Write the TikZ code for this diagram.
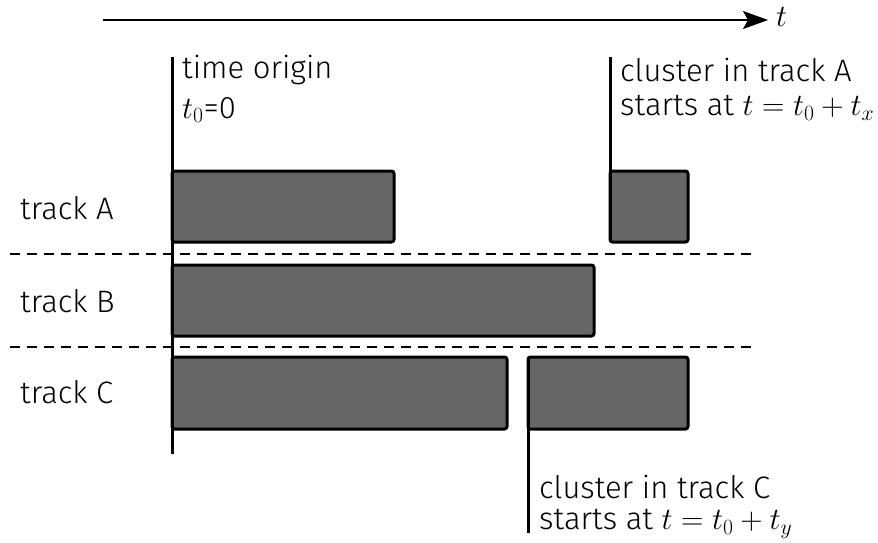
\RequirePackage{fix-cm}
\documentclass[tikz,border=0pt]{standalone}
\usepackage{fontspec}
\setmainfont{Fira Sans}[UprightFont=* Light]
\usetikzlibrary{arrows.meta}
\begin{document}
\begin{tikzpicture}[x=1pt,y=-1pt,
  cluster/.style={draw=black,fill=black!60,line width=3pt,rounded corners=2.5pt},
  marker/.style={draw=black,line width=3pt},
  sep/.style={draw=black,line width=1.4pt,dash pattern=on 10pt off 7pt},
  lbl/.style={font=\fontsize{31}{36}\selectfont,inner sep=0pt,anchor=west},
]
\useasboundingbox (0,0) rectangle (878,542);
% time axis
\coordinate (ax0) at (103,20);
\coordinate (ax1) at (768,20);
\draw[line width=1.5pt,-{Stealth[length=25pt,width=18pt,inset=5pt]}] (ax0) -- (ax1);
\node[lbl] (tlab) at (776,17) {$t$};
% track separators
\coordinate (s1a) at (10,254); \coordinate (s1b) at (752,254);
\coordinate (s2a) at (10,347); \coordinate (s2b) at (752,347);
\draw[sep] (s1a) -- (s1b);
\draw[sep] (s2a) -- (s2b);
% clusters
\draw[cluster] (172,171) rectangle (394,242) node[pos=.5] (a1) {};
\draw[cluster] (610,171) rectangle (688,242) node[pos=.5] (a2) {};
\draw[cluster] (172,265) rectangle (594,336) node[pos=.5] (b1) {};
\draw[cluster] (172,357) rectangle (507,429) node[pos=.5] (c1) {};
\draw[cluster] (528,357) rectangle (688,429) node[pos=.5] (c2) {};
% start markers
\coordinate (m0a) at (172,57);  \coordinate (m0b) at (172,454);
\coordinate (mAa) at (610,57);  \coordinate (mAb) at (610,242);
\coordinate (mCa) at (528,357); \coordinate (mCb) at (528,533);
\draw[marker] (m0a) -- (m0b);
\draw[marker] (mAa) -- (mAb);
\draw[marker] (mCa) -- (mCb);
% track names
\node[lbl] (trA) at (20,208) {track A};
\node[lbl] (trB) at (20,301) {track B};
\node[lbl] (trC) at (20,392) {track C};
% annotations
\node[lbl] (orig1) at (182,70) {time origin};
\node[lbl] (orig2) at (182,110) {$t_0$=0};
\node[lbl] (ca1) at (620,70) {cluster in track A};
\node[lbl] (ca2) at (620,108) {starts at $t=t_0+t_x$};
\node[lbl] (cc1) at (539,487) {cluster in track C};
\node[lbl] (cc2) at (539,524) {starts at $t=t_0+t_y$};
\end{tikzpicture}
\end{document}
